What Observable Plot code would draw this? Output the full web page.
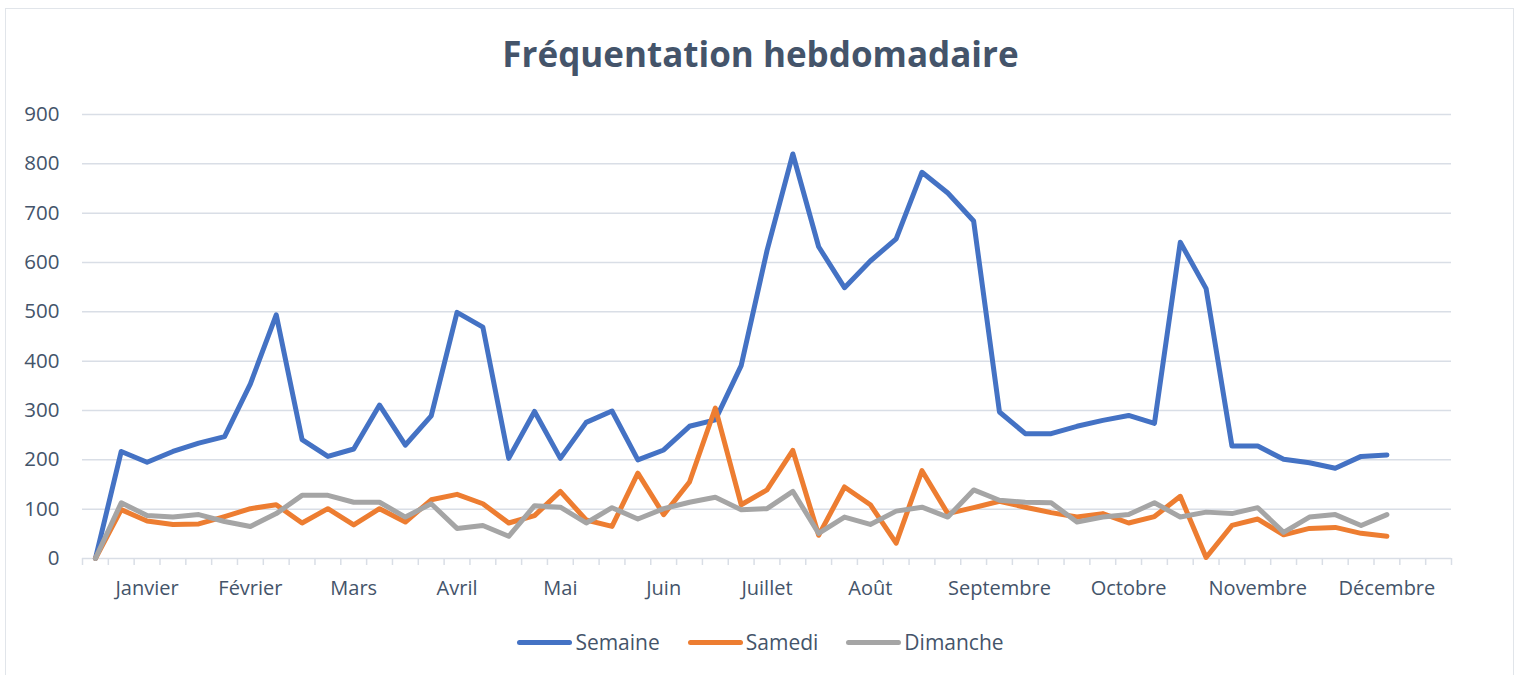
<!DOCTYPE html>
<html>
<head>
<meta charset="utf-8">
<script src="https://cdn.jsdelivr.net/npm/d3@7"></script>
<script src="https://cdn.jsdelivr.net/npm/@observablehq/plot@0.6"></script>
<style>
  html, body { margin: 0; padding: 0; background: #fff; }
  body { width: 1521px; height: 675px; position: relative; overflow: hidden; font-family: "Open Sans", sans-serif; }
  #frame { position: absolute; left: 5px; top: 8px; width: 1509px; height: 700px; border: 1.5px solid #e1e5ea; box-sizing: border-box; }
  #title { position: absolute; left: 0; top: 30px; width: 1521px; text-align: center; font-size: 35px; font-weight: 700; color: #44546a; }
  #chart { position: absolute; left: 0; top: 90px; }
  #legend { position: absolute; left: 0; top: 628px; width: 1521px; display: flex; justify-content: center; gap: 0; font-size: 21px; color: #44546a; }
  .item { display: flex; align-items: center; margin: 0 14px; }
  .sw { width: 55px; height: 5px; border-radius: 3px; margin-right: 3px; }
</style>
</head>
<body>
<div id="frame"></div>
<div id="title">Fréquentation hebdomadaire</div>
<div id="chart"></div>
<div id="legend"></div>
<script>
// 53 weekly categories; month names on some of them
const categories = ["", "", "Janvier", "", "", "", "Février", "", "", "", "Mars", "", "", "", "Avril", "", "", "", "Mai", "", "", "", "Juin", "", "", "", "Juillet", "", "", "", "Août", "", "", "", "", "Septembre", "", "", "", "", "Octobre", "", "", "", "", "Novembre", "", "", "", "", "Décembre", "", ""];

const semaine = [0, 217, 195, 217, 234, 247, 354, 494, 241, 207, 222, 311, 230, 289, 499, 469, 203, 298, 203,
  276, 299, 200, 220, 268, 281, 391, 624, 820, 632, 549, 603, 648, 783, 741, 684, 297, 253, 253,
  268, 280, 290, 274, 641, 547, 228, 228, 201, 194, 183, 207, 210];
const samedi = [0, 99, 76, 69, 70, 85, 101, 109, 72, 101, 68, 101, 74, 119, 130, 111, 72, 87, 136,
  78, 65, 173, 89, 155, 305, 109, 139, 219, 47, 145, 109, 31, 178, 91, 103, 116, 104, 93,
  84, 91, 72, 85, 126, 2, 67, 80, 48, 61, 63, 51, 45];
const dimanche = [0, 113, 87, 84, 89, 75, 65, 91, 128, 128, 114, 114, 84, 111, 61, 67, 45, 107, 104,
  72, 103, 80, 101, 114, 124, 99, 101, 136, 51, 84, 69, 96, 104, 84, 139, 118, 114, 113,
  74, 84, 89, 113, 84, 94, 91, 103, 53, 84, 89, 67, 89];

const seriesNames = ["Semaine", "Samedi", "Dimanche"];
const seriesColors = ["#4472c4", "#ed7d31", "#a5a5a5"];
const seriesValues = [semaine, samedi, dimanche];
const yTicks = [0, 100, 200, 300, 400, 500, 600, 700, 800, 900];

const data = [];
seriesValues.forEach((vals, s) => vals.forEach((v, i) => data.push({ i, v, serie: seriesNames[s] })));

const boundaries = d3.range(categories.length + 1).map(k => k - 0.5);
const labelIdx = categories.map((c, k) => c ? k : null).filter(k => k !== null);

const textColor = "#44546a";
const gridColor = "#d9dee6";

const chart = Plot.plot({
  width: 1521,
  height: 520,
  marginLeft: 82,
  marginRight: 70,
  marginTop: 24,
  marginBottom: 52,
  style: { fontFamily: "Open Sans, sans-serif", fontSize: "20px", color: textColor, background: "transparent" },
  x: { type: "linear", domain: [-0.5, categories.length - 0.5] },
  y: { domain: [0, 900] },
  color: { domain: seriesNames, range: seriesColors },
  marks: [
    Plot.ruleY(yTicks, { stroke: gridColor, strokeWidth: 1.5 }),
    Plot.axisY({ ticks: yTicks, tickSize: 0, tickPadding: 23, label: null, fill: textColor, fontSize: 20.5 }),
    Plot.axisX({ ticks: boundaries, tickSize: 7, tickFormat: () => "", label: null, stroke: gridColor, strokeWidth: 1.5 }),
    Plot.axisX({ ticks: labelIdx, tickSize: 0, tickPadding: 22, tickFormat: k => categories[k], label: null, fill: textColor, fontSize: 20 }),
    Plot.line(data, { x: "i", y: "v", z: "serie", stroke: "serie", strokeWidth: 5, strokeLinejoin: "round", strokeLinecap: "round" })
  ]
});
document.getElementById("chart").appendChild(chart);

const legend = document.getElementById("legend");
seriesNames.forEach((n, s) => {
  const it = document.createElement("div");
  it.className = "item";
  const sw = document.createElement("div");
  sw.className = "sw";
  sw.style.background = seriesColors[s];
  const tx = document.createElement("span");
  tx.textContent = n;
  it.appendChild(sw); it.appendChild(tx);
  legend.appendChild(it);
});
</script>
</body>
</html>
